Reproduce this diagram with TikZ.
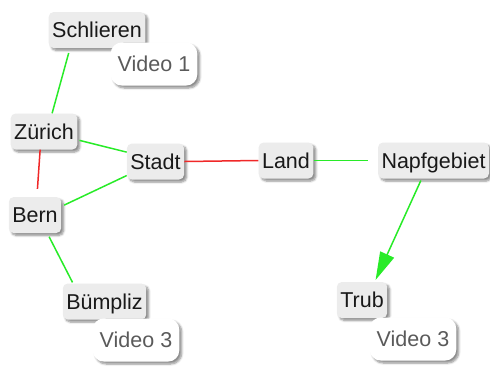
\documentclass[tikz,border=0pt]{standalone}
\usepackage{fontspec}
\setmainfont{Liberation Sans}
\usetikzlibrary{arrows.meta,shadows.blur}
\definecolor{boxfill}{RGB}{236,236,236}
\definecolor{linkgreen}{RGB}{40,235,40}
\definecolor{linkred}{RGB}{240,40,40}
\definecolor{vidtext}{RGB}{90,90,90}
\definecolor{placetext}{RGB}{25,25,25}
\tikzset{
  place/.style={fill=boxfill, rounded corners=5pt, inner xsep=3.5pt, inner ysep=0pt,
    minimum height=36pt, text height=16pt, text depth=1pt, text=placetext,
    font=\fontsize{21.5}{24}\selectfont,
    blur shadow={shadow xshift=2.5pt, shadow yshift=-2.5pt, shadow blur steps=6, shadow opacity=45}},
  video/.style={fill=white, rounded corners=11pt, inner xsep=7pt, inner ysep=0pt,
    minimum height=43pt, text height=16pt, text depth=1pt, text=vidtext,
    font=\fontsize{21.5}{24}\selectfont,
    blur shadow={shadow xshift=2.5pt, shadow yshift=-2.5pt, shadow blur steps=6, shadow opacity=45}},
  glink/.style={draw=linkgreen, line width=1.5pt},
  rlink/.style={draw=linkred, line width=1.5pt},
}
\begin{document}
\begin{tikzpicture}[x=1pt,y=-1pt]
\useasboundingbox (0,0) rectangle (490,368);
% places
\node[place] (schlieren) at (97,30) {Schlieren};
\node[video] (vid1) at (154,64) {Video 1};
\node[place] (zurich) at (44,131.5) {Zürich};
\node[place] (stadt) at (155.5,161.5) {Stadt};
\node[place] (bern) at (35,215) {Bern};
\node[place] (bumpliz) at (104.5,301.5) {Bümpliz};
\node[video] (vid3a) at (136,340) {Video 3};
\node[place] (land) at (286,160.5) {Land};
\node[place] (napf) at (433.5,160.5) {Napfgebiet};
\node[place] (trub) at (362,300) {Trub};
\node[video] (vid3b) at (413,339) {Video 3};
% connections
\draw[glink, shorten <=5pt] (schlieren.214) -- (zurich.66);
\draw[rlink, shorten >=8pt] (zurich.258) -- (bern.84);
\draw[glink, shorten <=2pt] (zurich.346) -- (stadt.162);
\draw[glink, shorten <=3pt] (bern.18) -- (stadt.206);
\draw[glink, shorten >=1pt, shorten <=4pt] (bern.304) -- (bumpliz.150);
\draw[rlink] (stadt.east) -- (land.west);
\draw[glink, shorten >=10pt] (land.east) -- (napf.west);
\draw[glink, -{Triangle[length=28pt,width=15pt]}, shorten <=2pt, shorten >=2pt] (napf.237) -- (trub.55);
\end{tikzpicture}
\end{document}
